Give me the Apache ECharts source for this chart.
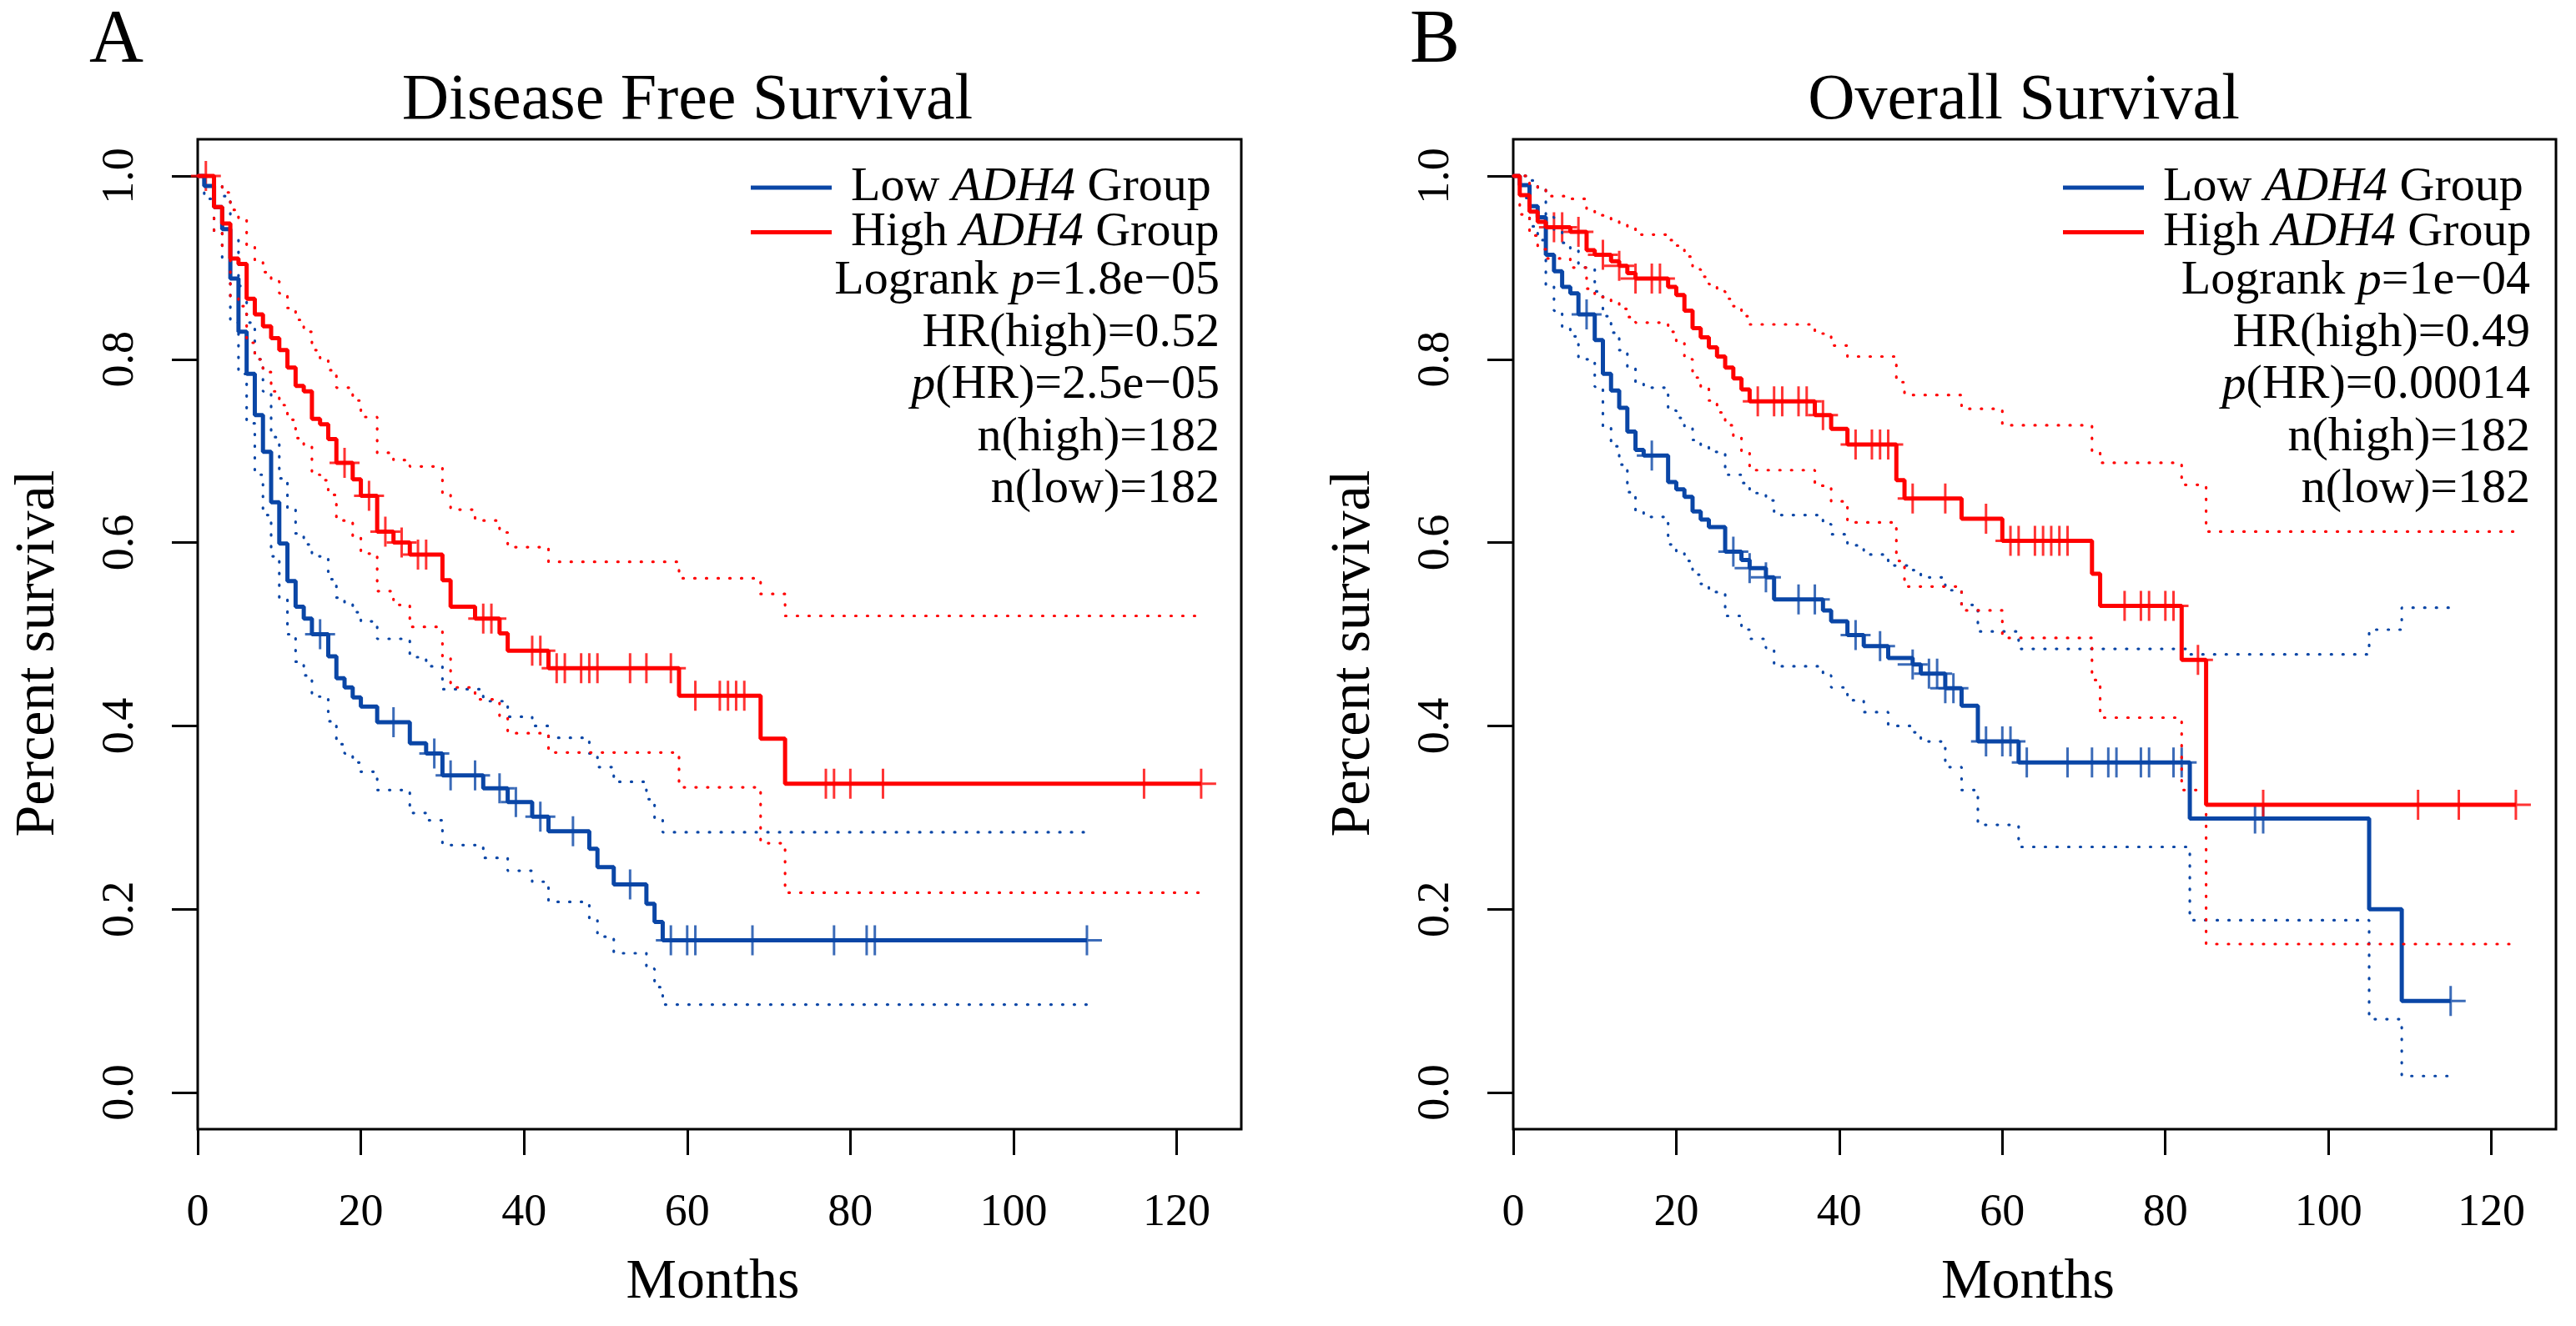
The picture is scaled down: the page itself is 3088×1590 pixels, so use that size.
<!DOCTYPE html>
<html><head><meta charset="utf-8">
<script src="https://cdn.jsdelivr.net/npm/echarts@6/dist/echarts.min.js"></script>
<style>html,body{margin:0;padding:0;background:#fff}#c{width:3088px;height:1590px}</style>
</head><body><div id="c"></div>
<script>
// ---------------- Panel A: Disease Free Survival ----------------
const lowA_t  = [0,0.8,2,3,4,5,6,7,8,9,10,11,12,13,14,16,17,18,19,20,22,26,28,30,35,38,41,43,48,49,51,55,56,57,109];
const lowA_s  = [1,0.989,0.966,0.942,0.888,0.830,0.784,0.739,0.699,0.644,0.599,0.558,0.530,0.517,0.500,0.476,0.452,0.442,0.431,0.421,0.404,0.381,0.370,0.346,0.332,0.317,0.301,0.285,0.266,0.246,0.227,0.206,0.186,0.166,0.166];
const lowA_up = [1,1,0.99,0.978,0.93,0.88,0.84,0.80,0.765,0.715,0.67,0.636,0.61,0.598,0.585,0.56,0.54,0.534,0.524,0.514,0.495,0.475,0.465,0.44,0.427,0.41,0.40,0.387,0.37,0.355,0.339,0.32,0.30,0.284,0.284];
const lowA_lo = [1,0.975,0.94,0.91,0.84,0.784,0.73,0.674,0.63,0.585,0.54,0.50,0.47,0.455,0.432,0.405,0.38,0.37,0.36,0.35,0.33,0.305,0.297,0.270,0.256,0.242,0.23,0.208,0.19,0.17,0.152,0.135,0.115,0.096,0.096];
const lowA_cens = [15,24,29,31,34,37,39,42,46,53,58,60,61,68,78,82,83,109];

const highA_t  = [0,2,3,4,5,6,7,8,9,10,11,12,13,14,15,16,17,19,20,22,24,26,30,31,34,37,38,43,59,69,72,123];
const highA_s  = [1,0.966,0.948,0.910,0.904,0.866,0.849,0.836,0.823,0.810,0.791,0.771,0.765,0.735,0.729,0.713,0.687,0.669,0.651,0.612,0.600,0.587,0.559,0.530,0.517,0.501,0.482,0.463,0.433,0.386,0.337,0.337];
const highA_up = [1,0.99,0.982,0.963,0.952,0.925,0.908,0.895,0.885,0.872,0.856,0.843,0.830,0.810,0.800,0.788,0.769,0.755,0.737,0.698,0.690,0.683,0.652,0.636,0.624,0.611,0.595,0.579,0.561,0.544,0.520,0.520];
const highA_lo = [1,0.94,0.923,0.867,0.858,0.818,0.80,0.786,0.765,0.75,0.734,0.714,0.706,0.674,0.668,0.652,0.624,0.606,0.588,0.547,0.532,0.508,0.476,0.442,0.429,0.41,0.392,0.371,0.333,0.272,0.218,0.218];
const highA_cens = [1,18,21,23,25,27,28,35,36,41,42,44,45,47,48,49,53,55,58,61,64,65,66,67,77,78,80,84,116,123];

// ---------------- Panel B: Overall Survival ----------------
const lowB_t  = [0,0.8,2,3,4,5,6,7,8,10,11,12,13,14,15,16,19,20,21,22,23,24,26,28,29,31,32,38,39,41,43,46,49,50,53,55,57,62,83,105,109,115];
const lowB_s  = [1,0.990,0.967,0.955,0.914,0.896,0.879,0.872,0.849,0.821,0.784,0.766,0.747,0.721,0.701,0.695,0.666,0.658,0.650,0.634,0.625,0.617,0.590,0.581,0.572,0.562,0.538,0.526,0.514,0.499,0.487,0.474,0.467,0.457,0.441,0.422,0.383,0.360,0.299,0.200,0.100,0.100];
const lowB_up = [1,1,0.995,0.985,0.955,0.94,0.927,0.92,0.90,0.874,0.847,0.829,0.81,0.792,0.775,0.769,0.744,0.736,0.727,0.712,0.705,0.699,0.674,0.665,0.654,0.646,0.63,0.62,0.609,0.597,0.587,0.575,0.57,0.562,0.548,0.532,0.503,0.484,0.478,0.505,0.529,0.529];
const lowB_lo = [1,0.976,0.945,0.93,0.88,0.853,0.835,0.825,0.80,0.77,0.725,0.705,0.685,0.655,0.635,0.628,0.598,0.59,0.58,0.565,0.555,0.546,0.52,0.505,0.495,0.485,0.465,0.455,0.442,0.428,0.415,0.40,0.393,0.383,0.355,0.33,0.292,0.268,0.188,0.080,0.018,0.018];
const lowB_cens = [9,17,27,29,31,35,37,42,45,49,51,52,53,54,58,60,61,63,68,71,73,74,77,78,81,82,91,92,115];

const highB_t  = [0,0.8,2,3,4,7,9,10,12,13,14,15,19,20,21,22,23,24,25,26,27,28,29,37,39,41,47,48,55,60,71,72,82,85,123];
const highB_s  = [1,0.979,0.961,0.950,0.944,0.939,0.919,0.914,0.907,0.902,0.894,0.888,0.879,0.870,0.853,0.834,0.824,0.813,0.803,0.791,0.779,0.767,0.754,0.739,0.724,0.707,0.668,0.648,0.626,0.602,0.566,0.531,0.472,0.314,0.314];
const highB_up = [1,1,0.99,0.985,0.978,0.975,0.963,0.957,0.951,0.947,0.943,0.936,0.930,0.924,0.912,0.898,0.89,0.882,0.874,0.866,0.858,0.847,0.838,0.828,0.815,0.803,0.775,0.761,0.746,0.728,0.70,0.687,0.663,0.612,0.612];
const highB_lo = [1,0.958,0.935,0.92,0.91,0.90,0.877,0.868,0.862,0.855,0.846,0.84,0.83,0.82,0.80,0.78,0.768,0.755,0.742,0.728,0.715,0.70,0.679,0.662,0.645,0.622,0.58,0.552,0.526,0.496,0.45,0.409,0.33,0.162,0.162];
const highB_cens = [5,6,8,11,13,15,17,18,30,32,33,35,36,38,42,44,45,46,49,53,58,61,62,64,65,66,67,68,75,77,78,80,81,84,92,111,116,123];

const xTicks = [0,20,40,60,80,100,120];
const yTicks = [0,0.2,0.4,0.6,0.8,1.0];
const titles = ['Disease Free Survival','Overall Survival'];
const panelLetters = ['A','B'];
const groupNames = ['Low ADH4 Group','High ADH4 Group'];
const statsA = ['{n|Logrank }{i|p}{n|=1.8e\u221205}','{n|HR(high)=0.52}','{i|p}{n|(HR)=2.5e\u221205}','{n|n(high)=182}','{n|n(low)=182}'];
const statsB = ['{n|Logrank }{i|p}{n|=1e\u221204}','{n|HR(high)=0.49}','{i|p}{n|(HR)=0.00014}','{n|n(high)=182}','{n|n(low)=182}'];

const FONT = 'Liberation Serif';
const BLUE = '#0a46a6', RED = '#ff0000';
const XMAX = 127.92;

function pairs(ts, ss){ return ts.map((t,i)=>[t, ss[i]]); }
function stepAt(ts, ss, t){ let v = ss[0]; for (let i=0;i<ts.length;i++){ if (ts[i] <= t) v = ss[i]; else break; } return v; }

const plus = 'path://M5,0L5,10M0,5L10,5';
function groupSeries(idx, name, color, t, s, up, lo, cens){
  const common = {xAxisIndex: idx, yAxisIndex: idx, step: 'end', symbol: 'none', silent: true, animation: false};
  const dotted = {color: color, width: 3.2, type: [1, 13], cap: 'round'};
  return [
    Object.assign({type:'line', name: name + ' upper ' + idx, data: pairs(t, up), lineStyle: dotted, itemStyle:{color}}, common),
    Object.assign({type:'line', name: name + ' lower ' + idx, data: pairs(t, lo), lineStyle: dotted, itemStyle:{color}}, common),
    Object.assign({type:'line', name: name, data: pairs(t, s), lineStyle: {color: color, width: 5}, itemStyle:{color}}, common),
    {type:'scatter', name: name + ' censored ' + idx, xAxisIndex: idx, yAxisIndex: idx, silent: true, animation: false, clip: false,
     symbol: plus, symbolSize: 36,
     itemStyle: {color: 'rgba(0,0,0,0)', borderColor: color, borderWidth: 3},
     data: cens.map(c => [c, stepAt(t, s, c)])}
  ];
}

const grids = [
  {left: 237, top: 167, width: 1251, height: 1187},
  {left: 1814, top: 167, width: 1250, height: 1187}
].map(g => Object.assign(g, {show: true, borderColor: '#000', borderWidth: 3, backgroundColor: 'transparent', containLabel: false}));

const axisFont = {fontFamily: FONT, color: '#000'};
const xAxes = [0,1].map(i => ({
  type: 'value', gridIndex: i, min: 0, max: XMAX, position: 'bottom',
  axisLine: {show: false, onZero: false}, splitLine: {show: false},
  axisTick: {show: true, inside: false, length: 31, lineStyle: {color: '#000', width: 3}, customValues: xTicks},
  axisLabel: Object.assign({fontSize: 54, margin: 74, customValues: xTicks, formatter: v => String(v)}, axisFont),
  name: 'Months', nameLocation: 'middle', nameGap: 150,
  nameTextStyle: Object.assign({fontSize: 68, padding: [0, 16, 0, 0]}, axisFont)
}));
const yAxes = [0,1].map(i => ({
  type: 'value', gridIndex: i, min: -0.04, max: 1.04, position: 'left',
  axisLine: {show: false, onZero: false}, splitLine: {show: false},
  axisTick: {show: true, inside: false, length: 31, lineStyle: {color: '#000', width: 3}, customValues: yTicks},
  axisLabel: Object.assign({fontSize: 54, margin: 65, rotate: 90, customValues: yTicks, formatter: v => v.toFixed(1)}, axisFont),
  name: 'Percent survival', nameLocation: 'middle', nameGap: 157, nameRotate: 90,
  nameTextStyle: Object.assign({fontSize: 68, padding: [0, 46, 0, 0]}, axisFont)
}));

const series = [
  ...groupSeries(0, groupNames[0], BLUE, lowA_t, lowA_s, lowA_up, lowA_lo, lowA_cens),
  ...groupSeries(0, groupNames[1], RED, highA_t, highA_s, highA_up, highA_lo, highA_cens),
  ...groupSeries(1, groupNames[0], BLUE, lowB_t, lowB_s, lowB_up, lowB_lo, lowB_cens),
  ...groupSeries(1, groupNames[1], RED, highB_t, highB_s, highB_up, highB_lo, highB_cens)
];

const richStats = {
  n: {fontFamily: FONT, fontSize: 58, lineHeight: 62.5, color: '#000'},
  i: {fontFamily: FONT, fontSize: 58, lineHeight: 62.5, color: '#000', fontStyle: 'italic'}
};
const richLegend = {
  n: {fontFamily: FONT, fontSize: 58, lineHeight: 44, color: '#000'},
  i: {fontFamily: FONT, fontSize: 58, lineHeight: 44, color: '#000', fontStyle: 'italic'}
};
const legends = [900, 2473].map(x => ({
  left: x, top: 196, orient: 'vertical', padding: 0, itemGap: -4.5,
  itemWidth: 97, itemHeight: 5, icon: 'rect', selectedMode: false,
  data: groupNames,
  formatter: name => name.replace(/^(\w+) (ADH4) (Group)$/, '{n|$1 }{i|$2}{n| $3}'),
  textStyle: {fontFamily: FONT, fontSize: 58, lineHeight: 44, color: '#000', padding: [0,0,0,18], rich: richLegend}
}));

const graphic = [
  {type: 'text', x: 824, y: 122, style: {text: titles[0], fontFamily: FONT, fontSize: 78, fill: '#000', align: 'center', verticalAlign: 'middle'}},
  {type: 'text', x: 2426, y: 122, style: {text: titles[1], fontFamily: FONT, fontSize: 78, fill: '#000', align: 'center', verticalAlign: 'middle'}},
  {type: 'text', x: 107, y: 50, style: {text: panelLetters[0], fontFamily: FONT, fontSize: 90, fill: '#000', align: 'left', verticalAlign: 'middle'}},
  {type: 'text', x: 1690, y: 50, style: {text: panelLetters[1], fontFamily: FONT, fontSize: 90, fill: '#000', align: 'left', verticalAlign: 'middle'}},
  {type: 'text', x: 1462, y: 306, style: {text: statsA.join('\n'), rich: richStats, fontFamily: FONT, fontSize: 58, fill: '#000', align: 'right', verticalAlign: 'top'}},
  {type: 'text', x: 3033, y: 306, style: {text: statsB.join('\n'), rich: richStats, fontFamily: FONT, fontSize: 58, fill: '#000', align: 'right', verticalAlign: 'top'}}
];

const chart = echarts.init(document.getElementById('c'), null, {renderer: 'canvas'});
chart.setOption({
  animation: false,
  backgroundColor: '#fff',
  grid: grids, xAxis: xAxes, yAxis: yAxes,
  legend: legends, series: series, graphic: graphic
});
</script></body></html>
